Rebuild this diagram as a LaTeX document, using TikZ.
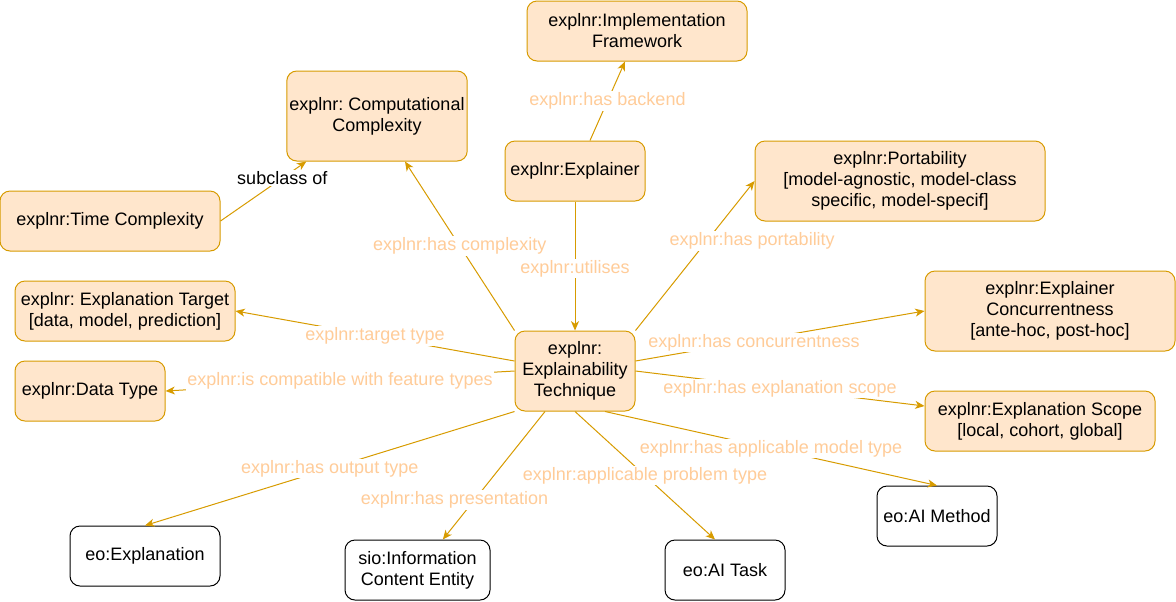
\documentclass[tikz,border=0pt]{standalone}
\usepackage{fontspec}
\setmainfont{Liberation Sans}
\usetikzlibrary{arrows.meta}
\definecolor{boxfill}{HTML}{FFE6CC}
\definecolor{boxline}{HTML}{D79B00}
\definecolor{reltext}{HTML}{FFCC99}
\tikzset{>={Stealth[length=7pt,width=6pt,inset=2pt]}}
\tikzset{
  classbox/.style={draw=boxline, fill=boxfill, rounded corners=7.5pt, line width=0.75pt,
    align=center, font=\fontsize{13.5}{15.75}\selectfont, inner sep=2pt},
  extbox/.style={draw=black, fill=white, rounded corners=7.5pt, line width=0.75pt,
    align=center, font=\fontsize{13.5}{15.75}\selectfont, inner sep=2pt},
  rel/.style={draw=boxline, line width=0.75pt, ->},
  rellabel/.style={fill=white, text=reltext, inner sep=1pt, font=\fontsize{13.5}{15.75}\selectfont},
}
\frenchspacing

\begin{document}
\begin{tikzpicture}[x=0.75pt, y=-0.75pt]
      \useasboundingbox (0,0) rectangle (1176,601);

      % classes of the ontology
      \node[classbox, minimum width=165pt, minimum height=45pt] (impl) at (637,31) {explnr:Implementation\\Framework};
      \node[classbox, minimum width=135pt, minimum height=67.5pt] (comp) at (377,116) {explnr: Computational\\Complexity};
      \node[classbox, minimum width=105pt, minimum height=45pt] (explainer) at (575,171) {explnr:Explainer};
      \node[classbox, minimum width=217.5pt, minimum height=60pt] (port) at (900,181) {explnr:Portability\\{[model-agnostic, model-class}\\specific, model-specif]};
      \node[classbox, minimum width=165pt, minimum height=45pt] (time) at (110,221) {explnr:Time Complexity};
      \node[classbox, minimum width=187.5pt, minimum height=60pt] (conc) at (1050,311) {explnr:Explainer\\Concurrentness\\{[ante-hoc, post-hoc]}};
      \node[classbox, minimum width=165pt, minimum height=45pt] (target) at (125,311) {explnr: Explanation Target\\{[data, model, prediction]}};
      \node[classbox, minimum width=90pt, minimum height=60pt] (tech) at (575,371) {explnr:\\Explainability\\Technique};
      \node[classbox, minimum width=112.5pt, minimum height=45pt] (dtype) at (90,391) {explnr:Data Type};
      \node[classbox, minimum width=172.5pt, minimum height=45pt] (scope) at (1040,421) {explnr:Explanation Scope\\{[local, cohort, global]}};

      % external classes
      \node[extbox, minimum width=90pt, minimum height=45pt] (aimethod) at (937,516) {eo:AI Method};
      \node[extbox, minimum width=112.5pt, minimum height=45pt] (expl) at (145,556) {eo:Explanation};
      \node[extbox, minimum width=108.75pt, minimum height=45pt] (ice) at (417.5,570) {sio:Information\\Content Entity};
      \node[extbox, minimum width=90pt, minimum height=45pt] (aitask) at (725,570) {eo:AI Task};

      % relations
      \draw[rel] ([xshift=11.25pt]explainer.north) -- node[rellabel, pos=0.5] {explnr:has backend} ([xshift=-9pt]impl.south);
      \draw[rel] (time.east) -- node[rellabel, text=black, pos=0.72] {subclass of} ([xshift=15pt]comp.south west);
      \draw[rel] (tech.north west) -- node[rellabel, pos=0.5] {explnr:has complexity} ([xshift=21pt]comp.south);
      \draw[rel] (explainer.south) -- node[rellabel, pos=0.52] {explnr:utilises} (tech.north);
      \draw[rel] (tech.north east) -- node[rellabel, pos=0.6, xshift=34pt] {explnr:has portability} (port.west);
      \draw[rel] ([yshift=7.5pt]tech.east) -- node[rellabel, pos=0.41, yshift=-1.5pt] {explnr:has concurrentness} (conc.west);
      \draw[rel] ([yshift=7.5pt]tech.west) -- node[rellabel, pos=0.5] {explnr:target type} (target.east);
      \draw[rel] (tech.west) -- node[rellabel, pos=0.5] {explnr:is compatible with feature types} (dtype.east);
      \draw[rel] (tech.east) -- node[rellabel, pos=0.5] {explnr:has explanation scope} ([yshift=11.25pt]scope.west);
      \draw[rel] ([xshift=22.5pt]tech.south) -- node[rellabel, pos=0.5] {explnr:has applicable model type} (aimethod.north);
      \draw[rel] (tech.south) -- node[rellabel, pos=0.5] {explnr:applicable problem type} ([xshift=-7.5pt]aitask.north);
      \draw[rel] ([xshift=-22.5pt]tech.south) -- node[rellabel, pos=0.69, xshift=-15pt] {explnr:has presentation} ([xshift=19pt]ice.north);
      \draw[rel] (tech.south west) -- node[rellabel, pos=0.5] {explnr:has output type} (expl.north);
    \end{tikzpicture}
\end{document}
